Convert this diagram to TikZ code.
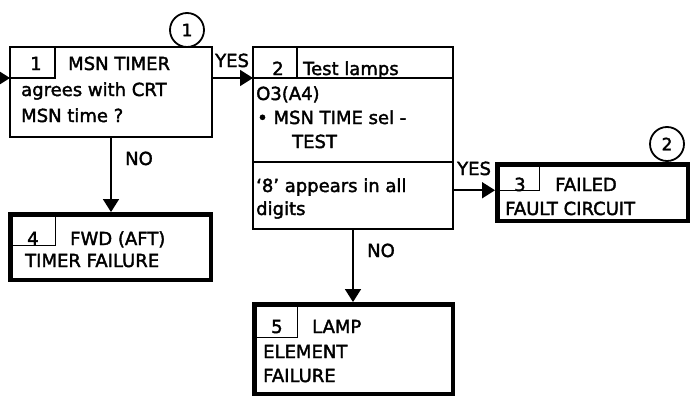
\documentclass[tikz,border=0pt]{standalone}
\usepackage{fontspec}
\setmainfont{DejaVu Sans}[FakeBold=2]
\usetikzlibrary{arrows.meta,positioning}
\tikzset{
  stepbox/.style={draw, line width=1.6pt, outer sep=0pt, inner sep=0pt, anchor=north west},
  endbox/.style={draw, line width=4.5pt, outer sep=0pt, inner sep=0pt, anchor=north west},
  numbox/.style={draw, line width=1.2pt, outer sep=0pt, inner sep=0pt, anchor=north west},
  txt/.style={anchor=base west, inner sep=0pt},
  tag/.style={draw, circle, line width=1.8pt, minimum size=34pt, inner sep=0pt, font=\fontsize{17}{17}\selectfont},
  flow/.style={line width=1.6pt, -{Triangle[length=13pt,width=16pt]}},
}
\begin{document}
\begin{tikzpicture}[x=1pt, y=-1pt, every node/.style={font=\fontsize{18}{25}\selectfont}]
\useasboundingbox (0,0) rectangle (697,399);
% step 1
\node[stepbox, minimum width=202pt, minimum height=90pt] (b1) at (10,47) {};
\node[numbox, minimum width=45pt, minimum height=31pt] (n1) at (b1.north west) {};
\node[txt] (t1) at (30,70) {1};
\node[txt] (t1a) at (68,70) {MSN TIMER};
\node[txt] (t1b) at (21,96) {agrees with CRT};
\node[txt] (t1c) at (21,122) {MSN time ?};
\node[tag] (c1) at (187,30) {1};
% step 2
\node[stepbox, minimum width=200pt, minimum height=115pt] (b2) at (253,47) {};
\node[stepbox, minimum width=200pt, minimum height=67pt] (b2b) at (b2.south west) {};
\node[numbox, minimum width=44pt, minimum height=31pt] (n2) at (b2.north west) {};
\draw[line width=1.2pt] (n2.south east) -- (b2.east |- n2.south);
\node[txt] (t2) at (272,75) {2};
\node[txt] (t2a) at (303,75) {Test lamps};
\node[txt] (t2b) at (256,100) {O3(A4)};
\node[txt] (t2c) at (257,124) {\textbullet\ MSN TIME sel -};
\node[txt] (t2d) at (292,148) {TEST};
\node[txt] (t2e) at (256,192) {`8' appears in all};
\node[txt] (t2f) at (256,215) {digits};
% step 3
\node[endbox, minimum width=190.5pt, minimum height=56.5pt] (b3) at (497.25,164.25) {};
\node[numbox, minimum width=42pt, minimum height=26pt] (n3) at (b3.north west) {};
\node[txt] (t3) at (514,191) {3};
\node[txt] (t3a) at (555,191) {FAILED};
\node[txt] (t3b) at (505,215) {FAULT CIRCUIT};
\node[tag] (c2) at (667,144) {2};
% step 4
\node[endbox, minimum width=200.5pt, minimum height=65.5pt] (b4) at (10.25,214.25) {};
\node[numbox, minimum width=45pt, minimum height=31pt] (n4) at (b4.north west) {};
\node[txt] (t4) at (27,245) {4};
\node[txt] (t4a) at (70,245) {FWD (AFT)};
\node[txt] (t4b) at (25,267) {TIMER FAILURE};
% step 5
\node[endbox, minimum width=198.5pt, minimum height=89.5pt] (b5) at (254.25,304.25) {};
\node[numbox, minimum width=43pt, minimum height=33pt] (n5) at (b5.north west) {};
\node[txt] (t5) at (271,333) {5};
\node[txt] (t5a) at (312,333) {LAMP};
\node[txt] (t5b) at (263,358) {ELEMENT};
\node[txt] (t5c) at (263,382) {FAILURE};
% connectors
\coordinate (start) at (0,78);
\draw[flow] (start) -- (n1.south west);
\draw[flow] (b1.east |- n1.south) -- (b2.west |- n1.south);
\draw[flow, shorten >=2.2pt] (b1.south) -- (b1.south |- b4.north);
\draw[flow, shorten >=2.2pt] (b2b.east |- n3.south) -- (b3.west |- n3.south);
\draw[flow, shorten >=2.2pt] (b2b.south) -- (b2b.south |- b5.north);
\node[txt] (yes1) at (215,67) {YES};
\node[txt] (yes2) at (457,175) {YES};
\node[txt] (no1) at (125,165) {NO};
\node[txt] (no2) at (367,257) {NO};
\end{tikzpicture}
\end{document}
